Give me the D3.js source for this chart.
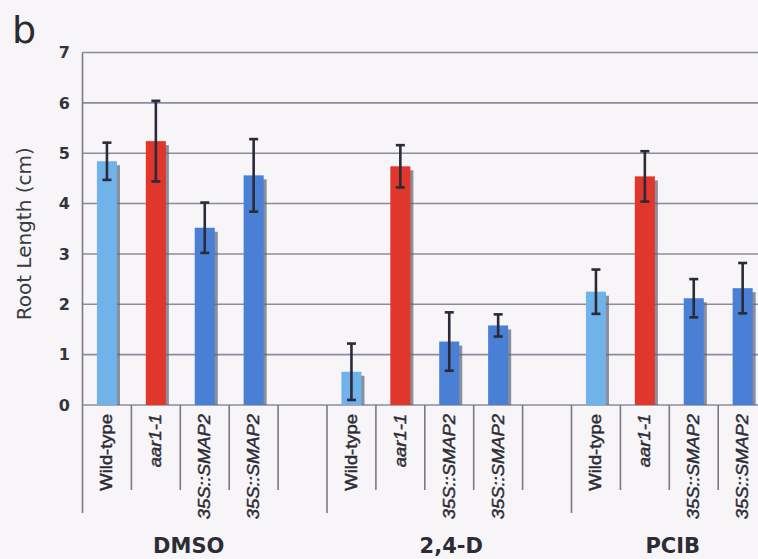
<!DOCTYPE html>
<html>
<head>
<meta charset="utf-8">
<script src="https://cdn.jsdelivr.net/npm/d3@7"></script>
<style>
  html, body { margin: 0; padding: 0; background: #f7f5f7; }
  svg { display: block; }
</style>
</head>
<body>
<script>
// Root length per treatment and genotype (cm), with error bar half-widths
const treatments = ["DMSO", "2,4-D", "PCIB"];
const genotypes = ["Wild-type", "aar1-1", "35S::SMAP2", "35S::SMAP2"];
const genotypeItalic = [false, true, true, true];
const genotypeColors = ["#70b2ea", "#e0362c", "#4a7fd6", "#4a7fd6"];
const dmsoMeans = [4.84, 5.24, 3.52, 4.56];
const dmsoErrors = [0.37, 0.80, 0.50, 0.72];
const d24Means = [0.66, 4.74, 1.26, 1.58];
const d24Errors = [0.56, 0.42, 0.58, 0.22];
const pcibMeans = [2.25, 4.54, 2.12, 2.32];
const pcibErrors = [0.44, 0.50, 0.38, 0.50];
const yTicks = [0, 1, 2, 3, 4, 5, 6, 7];
// horizontal nudge of each treatment caption relative to its group centre
const captionShift = [-16, 2, -21];

const W = 758, H = 559;
const slotsPerGroup = 5; // four genotypes plus one spacer slot
const means = [dmsoMeans, d24Means, pcibMeans];
const errors = [dmsoErrors, d24Errors, pcibErrors];

const rows = [];
treatments.forEach((t, g) => {
  genotypes.forEach((name, i) => {
    rows.push({ group: g, slot: g * slotsPerGroup + i, name, italic: genotypeItalic[i],
                color: genotypeColors[i], value: means[g][i], err: errors[g][i] });
  });
});

const svg = d3.select("body").append("svg").attr("width", W).attr("height", H);

const plotLeft = 82.5, plotTop = 52.5, plotBottom = 405;
const x = d3.scaleBand()
  .domain(d3.range(treatments.length * slotsPerGroup))
  .range([plotLeft, plotLeft + 15 * 48.9])
  .padding(0);
const y = d3.scaleLinear().domain([0, 7]).range([plotBottom, plotTop]);

const barW = x.bandwidth() * 0.41;
const ink = "#2a2a38";
const gridColor = "#8d8c9e";

// panel letter
svg.append("text").attr("x", 12).attr("y", 43)
  .attr("font-family", "DejaVu Sans, sans-serif").attr("font-size", 38)
  .attr("fill", "#2a2a30").text("b");

// horizontal grid lines
svg.append("g").selectAll("line").data(yTicks).join("line")
  .attr("x1", plotLeft).attr("x2", W)
  .attr("y1", d => y(d)).attr("y2", d => y(d))
  .attr("stroke", gridColor).attr("stroke-width", 1.6);

// y tick labels
svg.append("g").selectAll("text").data(yTicks).join("text")
  .attr("x", 70).attr("y", d => y(d)).attr("dy", "0.36em")
  .attr("text-anchor", "end")
  .attr("font-family", "DejaVu Sans, sans-serif").attr("font-weight", "bold")
  .attr("font-size", 16).attr("fill", "#33333b")
  .text(d => d);

// y axis title
svg.append("text")
  .attr("transform", `translate(31,${(plotTop + plotBottom) / 2 + 5}) rotate(-90)`)
  .attr("text-anchor", "middle")
  .attr("font-family", "DejaVu Sans, sans-serif").attr("font-size", 20)
  .attr("fill", "#3a3a42").text("Root Length (cm)");

// category divider ticks below the axis: long at group edges, short between bars
const dividers = d3.range(treatments.length * slotsPerGroup + 1);
svg.append("g").selectAll("line").data(dividers).join("line")
  .attr("x1", d => plotLeft + d * x.bandwidth())
  .attr("x2", d => plotLeft + d * x.bandwidth())
  .attr("y1", d => d === 0 ? plotTop : plotBottom)
  .attr("y2", d => d % slotsPerGroup === 0 ? 513 : 490)
  .attr("stroke", "#7a7a86").attr("stroke-width", 1.6);

// bar shadows
const bars = svg.append("g");
bars.selectAll("rect.shadow").data(rows).join("rect")
  .attr("class", "shadow")
  .attr("x", d => x(d.slot) + (x.bandwidth() - barW) / 2 + 3)
  .attr("y", d => y(d.value) + 4)
  .attr("width", barW)
  .attr("height", d => Math.max(0, y(0) - y(d.value) - 4))
  .attr("fill", "#5d6374").attr("opacity", 0.7);

// bars
bars.selectAll("rect.bar").data(rows).join("rect")
  .attr("class", "bar")
  .attr("x", d => x(d.slot) + (x.bandwidth() - barW) / 2)
  .attr("y", d => y(d.value))
  .attr("width", barW)
  .attr("height", d => y(0) - y(d.value))
  .attr("fill", d => d.color);

// error bars
const eb = svg.append("g").attr("stroke", ink).attr("stroke-width", 2.6);
const cx = d => x(d.slot) + x.bandwidth() / 2;
eb.selectAll("line.stem").data(rows).join("line")
  .attr("x1", cx).attr("x2", cx)
  .attr("y1", d => y(d.value + d.err)).attr("y2", d => y(d.value - d.err));
eb.selectAll("line.top").data(rows).join("line")
  .attr("x1", d => cx(d) - 4.5).attr("x2", d => cx(d) + 4.5)
  .attr("y1", d => y(d.value + d.err)).attr("y2", d => y(d.value + d.err));
eb.selectAll("line.bot").data(rows).join("line")
  .attr("x1", d => cx(d) - 4.5).attr("x2", d => cx(d) + 4.5)
  .attr("y1", d => y(d.value - d.err)).attr("y2", d => y(d.value - d.err));

// genotype labels, rotated and drawn tall and narrow
svg.append("g").selectAll("text").data(rows).join("text")
  .attr("transform", d => `translate(${cx(d) + 5.5},${plotBottom + 9}) rotate(-90) scale(1.15,1)`)
  .attr("text-anchor", "end")
  .attr("font-family", "Liberation Sans, Arial, sans-serif").attr("font-size", 16)
  .attr("font-style", d => d.italic ? "italic" : "normal")
  .attr("fill", "#2c2c36").attr("stroke", "#2c2c36").attr("stroke-width", 0.45)
  .text(d => d.name);

// treatment captions
svg.append("g").selectAll("text").data(treatments).join("text")
  .attr("x", (d, g) => plotLeft + (g * slotsPerGroup + slotsPerGroup / 2) * x.bandwidth() + captionShift[g])
  .attr("y", 553)
  .attr("text-anchor", "middle")
  .attr("font-family", "DejaVu Sans, sans-serif").attr("font-weight", "bold")
  .attr("font-size", 21).attr("fill", "#2c2c34")
  .text(d => d);
</script>
</body>
</html>
